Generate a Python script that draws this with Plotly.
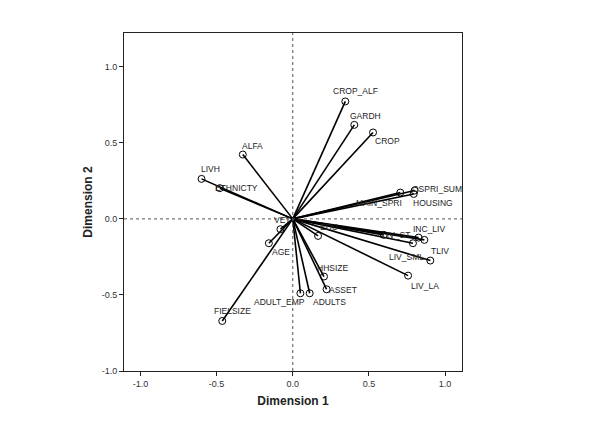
import plotly.graph_objects as go

# ---- data (component loadings) ----
variables = ["CROP_ALF", "GARDH", "CROP", "ALFA", "LIVH", "ETHNICTY", "MAIN_SPRI",
             "OSPRI_SUM", "HOUSING", "VET", "AGE", "EDU", "INC_LIV", "INC_TOT",
             "LIV_ST", "LIV_SML", "TLIV", "LIV_LA", "HHSIZE", "ASSET",
             "ADULT_EMP", "ADULTS", "FIELSIZE"]
dim1 = [0.345, 0.404, 0.527, -0.328, -0.599, -0.479, 0.706,
        0.800, 0.794, -0.081, -0.157, 0.166, 0.826, 0.864,
        0.597, 0.789, 0.903, 0.757, 0.205, 0.222,
        0.050, 0.111, -0.463]
dim2 = [0.772, 0.618, 0.568, 0.423, 0.263, 0.202, 0.173,
        0.186, 0.164, -0.068, -0.160, -0.112, -0.123, -0.138,
        -0.105, -0.160, -0.274, -0.373, -0.379, -0.463,
        -0.489, -0.489, -0.671]
tick_vals = [-1.0, -0.5, 0.0, 0.5, 1.0]
tick_text = ["-1.0", "-0.5", "0.0", "0.5", "1.0"]

# ---- label placement (pixel offsets, style only) ----
label_shift = {
    "CROP_ALF": (10, 10), "GARDH": (11, 9), "CROP": (14, -9), "ALFA": (10, 9),
    "LIVH": (9, 10), "ETHNICTY": (17, 0), "MAIN_SPRI": (-21, -10),
    "OSPRI_SUM": (22, 2), "HOUSING": (19, -9), "VET": (2, 9), "AGE": (12, -9),
    "EDU": (11, 9), "INC_LIV": (10, 9), "LIV_ST": (12, 0), "LIV_SML": (-6, -14),
    "TLIV": (10, 10), "LIV_LA": (17, -10), "HHSIZE": (9, 9), "ASSET": (16, -1),
    "ADULT_EMP": (-21, -9), "ADULTS": (20, -9), "FIELSIZE": (10, 10),
}

FONT = "Liberation Sans, Arial, sans-serif"

fig = go.Figure()

# vectors from the origin
vx, vy = [], []
for x, y in zip(dim1, dim2):
    vx += [0, x, None]
    vy += [0, y, None]
fig.add_trace(go.Scatter(x=vx, y=vy, mode="lines",
                         line=dict(color="black", width=1.6),
                         hoverinfo="skip", showlegend=False))
# end-point markers
fig.add_trace(go.Scatter(x=dim1, y=dim2, mode="markers", text=variables,
                         marker=dict(symbol="circle-open", size=7,
                                     color="black", line=dict(width=1)),
                         showlegend=False))

for name, x, y in zip(variables, dim1, dim2):
    if name in label_shift:
        dx, dy = label_shift[name]
        fig.add_annotation(x=x, y=y, text=name, showarrow=False,
                           xshift=dx, yshift=dy,
                           font=dict(family=FONT, size=8.5, color="#222222"))

fig.add_hline(y=0, line=dict(color="#555555", width=1, dash="dot"))
fig.add_vline(x=0, line=dict(color="#555555", width=1, dash="dot"))

axis_common = dict(
    showgrid=False, zeroline=False, showline=True, mirror=True,
    linecolor="#222222", linewidth=1,
    ticks="outside", ticklen=4, tickcolor="#222222",
    tickvals=tick_vals, ticktext=tick_text,
    tickfont=dict(family=FONT, size=9, color="#333333"),
)

fig.update_layout(
    width=593, height=426,
    margin=dict(l=116, r=139, t=25, b=63),
    paper_bgcolor="white", plot_bgcolor="white",
    xaxis=dict(range=[-1.108, 1.111],
               title=dict(text="<b>Dimension 1</b>", standoff=8,
                          font=dict(family=FONT, size=12, color="#222222")),
               **axis_common),
    yaxis=dict(range=[-1.0, 1.222],
               title=dict(text="<b>Dimension 2</b>", standoff=6,
                          font=dict(family=FONT, size=12, color="#222222")),
               **axis_common),
)

fig.write_html("out.html")
